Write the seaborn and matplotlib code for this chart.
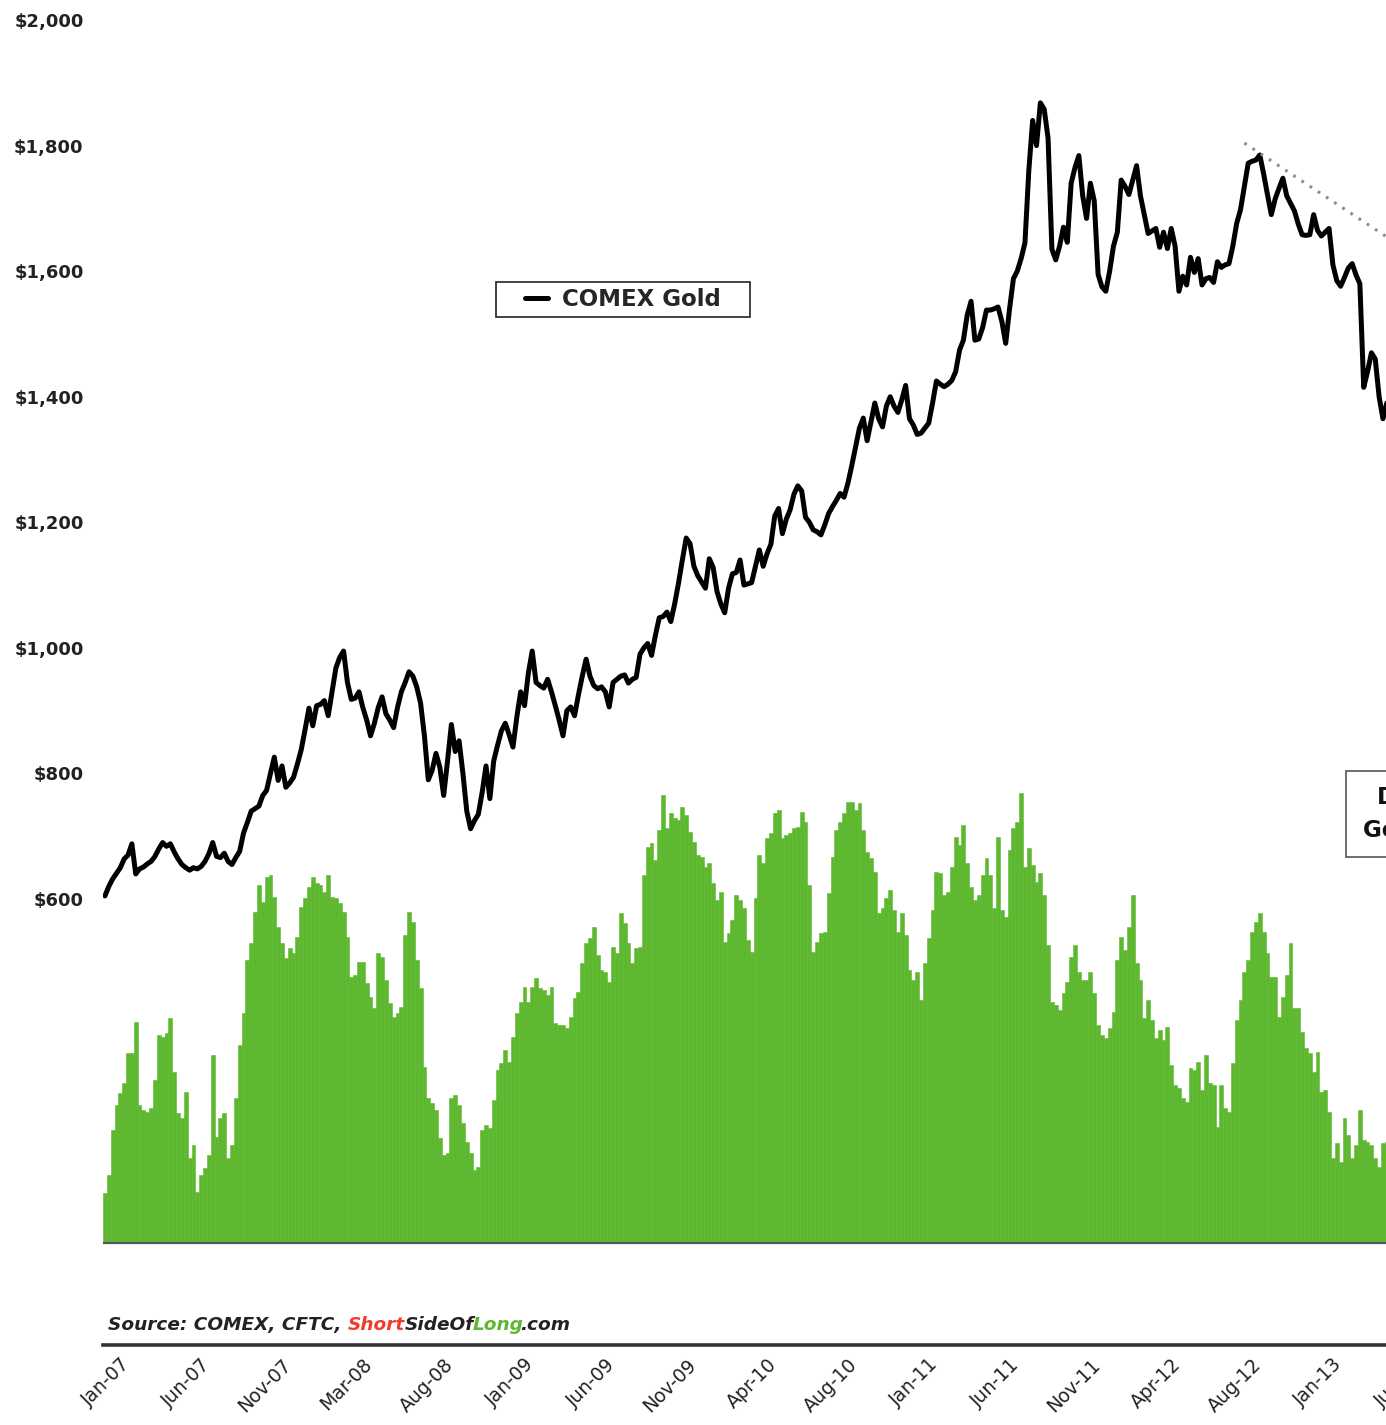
import pandas as pd
import matplotlib.pyplot as plt
import seaborn as sns
from matplotlib.patches import Rectangle
from matplotlib.transforms import ScaledTranslation

# weekly COMEX gold close, first week 12-Jan-2007 (one row = 21 weeks)
gold = [
    605, 620, 632, 641, 650, 664, 670, 688, 640, 648, 651, 656, 660, 668, 680, 690, 684, 688, 675, 664, 655,
    650, 646, 650, 648, 652, 660, 672, 690, 668, 666, 673, 660, 655, 666, 676, 705, 722, 740, 744, 748, 765,
    773, 800, 826, 789, 812, 778, 785, 794, 815, 838, 870, 904, 876, 908, 910, 916, 892, 930, 968, 985, 995,
    945, 918, 920, 930, 905, 885, 860, 880, 905, 922, 895, 885, 873, 905, 930, 945, 962, 955, 938, 912, 860,
    790, 805, 832, 810, 765, 820, 878, 835, 852, 800, 740, 712, 725, 735, 770, 812, 760, 820, 845, 868, 880,
    862, 842, 890, 930, 908, 960, 995, 945, 940, 936, 950, 930, 908, 885, 860, 900, 906, 892, 925, 955, 982,
    955, 940, 935, 938, 930, 906, 945, 950, 955, 957, 944, 950, 953, 990, 1000, 1007, 988, 1020, 1048, 1050, 1057,
    1042, 1070, 1103, 1140, 1175, 1166, 1130, 1115, 1105, 1095, 1142, 1128, 1090, 1070, 1056, 1095, 1118, 1120, 1140, 1100, 1102,
    1104, 1130, 1156, 1130, 1150, 1165, 1210, 1222, 1182, 1205, 1220, 1245, 1258, 1250, 1208, 1200, 1188, 1185, 1180, 1196, 1214,
    1225, 1235, 1246, 1240, 1262, 1290, 1320, 1350, 1366, 1330, 1360, 1390, 1365, 1352, 1385, 1400, 1385, 1375, 1395, 1418, 1365,
    1355, 1340, 1342, 1350, 1358, 1390, 1425, 1420, 1416, 1420, 1426, 1440, 1474, 1490, 1530, 1552, 1490, 1492, 1510, 1538, 1538,
    1540, 1543, 1520, 1485, 1540, 1588, 1600, 1620, 1645, 1760, 1840, 1800, 1868, 1858, 1812, 1635, 1618, 1640, 1670, 1646, 1740,
    1765, 1784, 1720, 1684, 1740, 1712, 1595, 1575, 1568, 1600, 1640, 1662, 1745, 1735, 1722, 1745, 1768, 1720, 1690, 1660, 1664,
    1668, 1638, 1662, 1636, 1668, 1640, 1568, 1592, 1578, 1622, 1598, 1620, 1578, 1588, 1590, 1582, 1615, 1606, 1610, 1612, 1640,
    1676, 1698, 1735, 1772, 1775, 1777, 1785, 1755, 1722, 1690, 1715, 1732, 1748, 1720, 1708, 1696, 1675, 1658, 1657, 1658, 1690,
    1665, 1656, 1662, 1668, 1610, 1585, 1576, 1590, 1605, 1612, 1594, 1580, 1415, 1440, 1470, 1460, 1400, 1365, 1390,
]

# CFTC positioning (green area, secondary scale, no axis shown)
positions = [
    50, 68, 113, 138, 150, 160, 190, 190, 221, 138, 133, 131, 135, 163, 208, 206, 210, 225, 171, 130,
    125, 151, 85, 98, 51, 68, 75, 88, 188, 106, 125, 130, 85, 98, 145, 198, 230, 283, 300, 331,
    358, 341, 366, 368, 346, 316, 300, 285, 295, 290, 306, 336, 345, 356, 366, 360, 358, 351, 368, 346,
    345, 340, 331, 306, 266, 268, 281, 281, 260, 246, 235, 290, 286, 263, 240, 226, 230, 236, 308, 331,
    321, 283, 255, 176, 145, 140, 133, 105, 88, 90, 145, 148, 138, 120, 101, 90, 73, 76, 113, 118,
    115, 143, 173, 180, 193, 181, 206, 230, 241, 256,
    241, 256, 265, 255, 253, 248, 256, 220, 218, 218, 215, 226, 245, 251, 280, 300, 305, 316, 288, 273,
    271, 261, 296, 290, 330, 320, 300, 280, 295, 296, 368, 396, 400, 383, 413, 448, 415, 430, 425, 423,
    436, 428, 411, 401, 388, 386, 376, 380, 360, 343, 351, 301, 310, 323, 348, 343, 335, 303, 291, 345,
    388, 380, 405, 410, 430, 433, 405, 408, 410, 415, 416, 431, 421, 358, 291, 301, 310, 311, 350, 386,
    413, 421, 430, 441, 441, 433, 440, 413, 391, 385, 371, 330, 335, 345, 353, 333, 311, 330, 308, 273,
    263, 271, 243, 280, 305, 333, 371, 370, 348, 351, 376, 406,
    398, 418, 380, 356, 343, 348, 368, 385, 368, 335, 406, 333, 326, 393, 415, 421, 450, 376, 395, 378,
    361, 370, 348, 298, 241, 238, 233, 250, 261, 286, 298, 271, 263, 263, 271, 250, 218, 208, 205, 215,
    231, 283, 306, 293, 316, 348, 280, 263, 225, 243, 223, 205, 213, 203, 216, 178, 158, 155, 145, 141,
    175, 173, 181, 153, 188, 160, 158, 116, 158, 135, 131, 180, 223, 243, 271, 283, 311, 321, 330, 311,
    290, 266, 266, 226, 246, 268, 300, 235, 235, 211, 195, 190, 171, 191, 151, 153, 131, 85, 100, 81,
    125, 108, 85, 98, 133, 103, 101, 98, 85, 76, 100, 101,
]

start_date = "2007-01-12"
price_ticks = [600, 800, 1000, 1200, 1400, 1600, 1800, 2000]
trend_weeks = [296, 345]
trend_prices = [1804, 1606]

weeks = list(range(len(gold)))
dates = pd.date_range(start_date, periods=len(gold) + 10, freq="7D")
df = pd.DataFrame({"week": weeks, "gold": gold, "positions": positions})

sns.set_style("white")
plt.rcParams["font.family"] = ["DejaVu Sans"]

W, H = 1386, 1425
fig = plt.figure(figsize=(W / 100, H / 100), dpi=100)
ax = fig.add_axes([103 / W, 80 / H, 1330 / W, 1325 / H])
ax_g = ax.twinx()

green = "#5db82f"
sns.barplot(data=df, x="week", y="positions", ax=ax_g, color=green, saturation=1,
            width=1, linewidth=0.4, edgecolor=green, errorbar=None)
sns.lineplot(data=df, x="week", y="gold", ax=ax, color="black", lw=3.6,
             label="COMEX Gold")
ax.plot(trend_weeks, trend_prices, color="#8c8c8c", lw=2.2,
        linestyle=(0, (0.9, 2.3)))

# gold line above the green bars
ax.set_zorder(ax_g.get_zorder() + 1)
ax.patch.set_visible(False)

ax.set_xlim(-0.5, 345)
ax.set_ylim(-110.2, 2000)
ax_g.set_ylim(-102, 1223)
ax_g.axhline(0, color="#555555", lw=1.6)

ax.set_yticks(price_ticks)
ax.set_yticklabels([f"${v:,}" for v in price_ticks], fontsize=13,
                   fontweight="bold", color="#222222")
ax.tick_params(axis="y", length=0, pad=14)
ax_g.set_yticks([])
ax.set_ylabel("")
ax_g.set_ylabel("")
ax.set_xlabel("")

tick_pos = list(range(0, 340, 21))
ax.set_xticks(tick_pos)
ax.set_xticklabels([dates[i].strftime("%b-%y") for i in tick_pos], rotation=45,
                   ha="right", va="center", rotation_mode="anchor",
                   fontsize=13.5, color="#222222")
ax.tick_params(axis="x", length=0, pad=12)
offset = ScaledTranslation(0.22, 0, fig.dpi_scale_trans)
for lab in ax.get_xticklabels():
    lab.set_transform(lab.get_transform() + offset)

for s in ax.spines.values():
    s.set_visible(False)
for s in ax_g.spines.values():
    s.set_visible(False)
ax.spines["bottom"].set_visible(True)
ax.spines["bottom"].set_linewidth(2.6)
ax.spines["bottom"].set_color("#333333")

# legend with square frame
handles, labels = ax.get_legend_handles_labels()
if ax.get_legend() is not None:
    ax.get_legend().remove()
fig.add_artist(Rectangle((496 / W, 1 - 317 / H), 254 / W, 35 / H,
                         transform=fig.transFigure, facecolor="white",
                         edgecolor="#222222", lw=1.2, zorder=4))
fig.legend(handles, labels, loc="center", bbox_to_anchor=(623 / W, 1 - 300 / H),
           frameon=False, prop={"size": 16.5, "weight": "bold"},
           handlelength=1.0, handletextpad=0.6)

# second label box, cut off by the right edge as in the original
fig.add_artist(Rectangle((1346 / W, 1 - 857 / H), 230 / W, 86 / H,
                         transform=fig.transFigure, facecolor="white",
                         edgecolor="#555555", lw=1.2, zorder=4))
fig.text(1461 / W, 1 - 814 / H, "Dumb Money\nGold Net Longs", ha="center",
         va="center", fontsize=16.5, fontweight="bold", linespacing=1.6,
         color="#111111", zorder=5)

# source line with coloured pieces
src_kw = dict(fontsize=13.3, style="italic", fontweight="bold", va="bottom")
prev = fig.text(108 / W, 1 - 1334 / H, "Source: COMEX, CFTC, ",
                color="#222222", **src_kw)
for piece, col, dx in [("Short", "#f23b2c", 0), ("SideOf", "#222222", -0.5),
                       ("Long", green, -1), (".com", "#222222", -2)]:
    prev = fig.add_artist(plt.Annotation(piece, xy=(1, 0), xycoords=prev,
                                         xytext=(dx, 0), textcoords="offset points",
                                         color=col, annotation_clip=False, **src_kw))

fig.savefig("out.png", dpi=100)
